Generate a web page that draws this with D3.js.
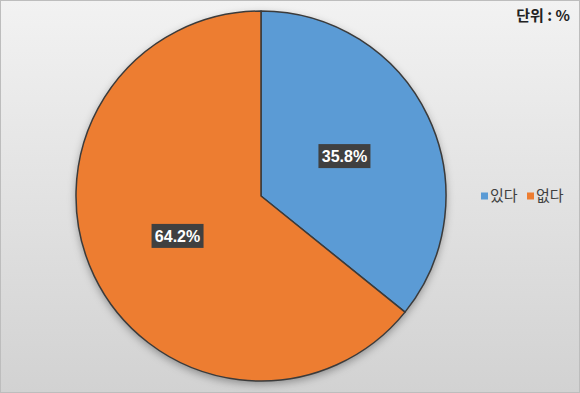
<!DOCTYPE html>
<html>
<head>
<meta charset="utf-8">
<script src="https://cdn.jsdelivr.net/npm/d3@7"></script>
<style>
  body { margin: 0; }
  svg { display: block; font-family: "Noto Sans CJK KR", "Noto Sans", sans-serif; }
</style>
</head>
<body>
<svg width="580" height="393"></svg>
<script>
// data
var categories = ["있다", "없다"];
var values = [35.8, 64.2];
var colors = ["#5b9bd5", "#ed7d31"];
var unitLabel = "단위 : %";

var svg = d3.select("svg");
var W = 580, H = 393;

var defs = svg.append("defs");
var bg = defs.append("linearGradient").attr("id", "bg").attr("x1", 0).attr("y1", 0).attr("x2", 0).attr("y2", 1);
bg.append("stop").attr("offset", "0%").attr("stop-color", "#f2f2f2");
bg.append("stop").attr("offset", "100%").attr("stop-color", "#d2d2d2");

var shadow = defs.append("filter").attr("id", "shadow").attr("x", "-20%").attr("y", "-20%").attr("width", "140%").attr("height", "140%");
shadow.append("feDropShadow").attr("dx", 0).attr("dy", 3).attr("stdDeviation", 4)
  .attr("flood-color", "#000").attr("flood-opacity", 0.35);

svg.append("rect").attr("x", 0.5).attr("y", 0.5).attr("width", W - 1).attr("height", H - 1)
  .attr("fill", "url(#bg)").attr("stroke", "#bdbdbd");

var cx = 261, cy = 196, r = 185;

var pie = d3.pie().sort(null).value(function (d) { return d; });
var arc = d3.arc().innerRadius(0).outerRadius(r);
var labelArc = d3.arc().innerRadius(r * 0.5).outerRadius(r * 0.5);
var arcs = pie(values);

var g = svg.append("g").attr("transform", "translate(" + cx + "," + cy + ")");

g.append("circle").attr("r", r).attr("fill", "#888").attr("filter", "url(#shadow)");

g.selectAll("path.slice").data(arcs).enter().append("path")
  .attr("class", "slice")
  .attr("d", arc)
  .attr("fill", function (d, i) { return colors[i]; })
  .attr("stroke", "#3b3b3b")
  .attr("stroke-width", 1.5)
  .attr("stroke-linejoin", "round");

var labels = g.selectAll("g.lbl").data(arcs).enter().append("g")
  .attr("class", "lbl")
  .attr("transform", function (d) { return "translate(" + labelArc.centroid(d) + ")"; });

labels.append("rect")
  .attr("x", -26).attr("y", -12).attr("width", 52).attr("height", 24)
  .attr("fill", "#404040");

labels.append("text")
  .attr("text-anchor", "middle")
  .attr("dy", "0.36em")
  .attr("fill", "#fff")
  .attr("font-size", 16)
  .attr("font-weight", "bold")
  .attr("font-family", "'Liberation Sans', Arial, sans-serif")
  .text(function (d) { return d.data.toFixed(1) + "%"; });

// legend
var legend = svg.append("g").attr("transform", "translate(481,196)");
var lx = [0, 46];
var items = legend.selectAll("g").data(categories).enter().append("g")
  .attr("transform", function (d, i) { return "translate(" + lx[i] + ",0)"; });
items.append("rect").attr("x", 0).attr("y", -3.5).attr("width", 7).attr("height", 7)
  .attr("fill", function (d, i) { return colors[i]; });
items.append("text").attr("x", 9).attr("dy", "0.36em")
  .attr("font-size", 15).attr("fill", "#404040")
  .text(function (d) { return d; });

svg.append("text").attr("x", 570).attr("y", 21).attr("text-anchor", "end")
  .attr("font-size", 15).attr("font-weight", "bold").attr("fill", "#222")
  .text(unitLabel);
</script>
</body>
</html>
